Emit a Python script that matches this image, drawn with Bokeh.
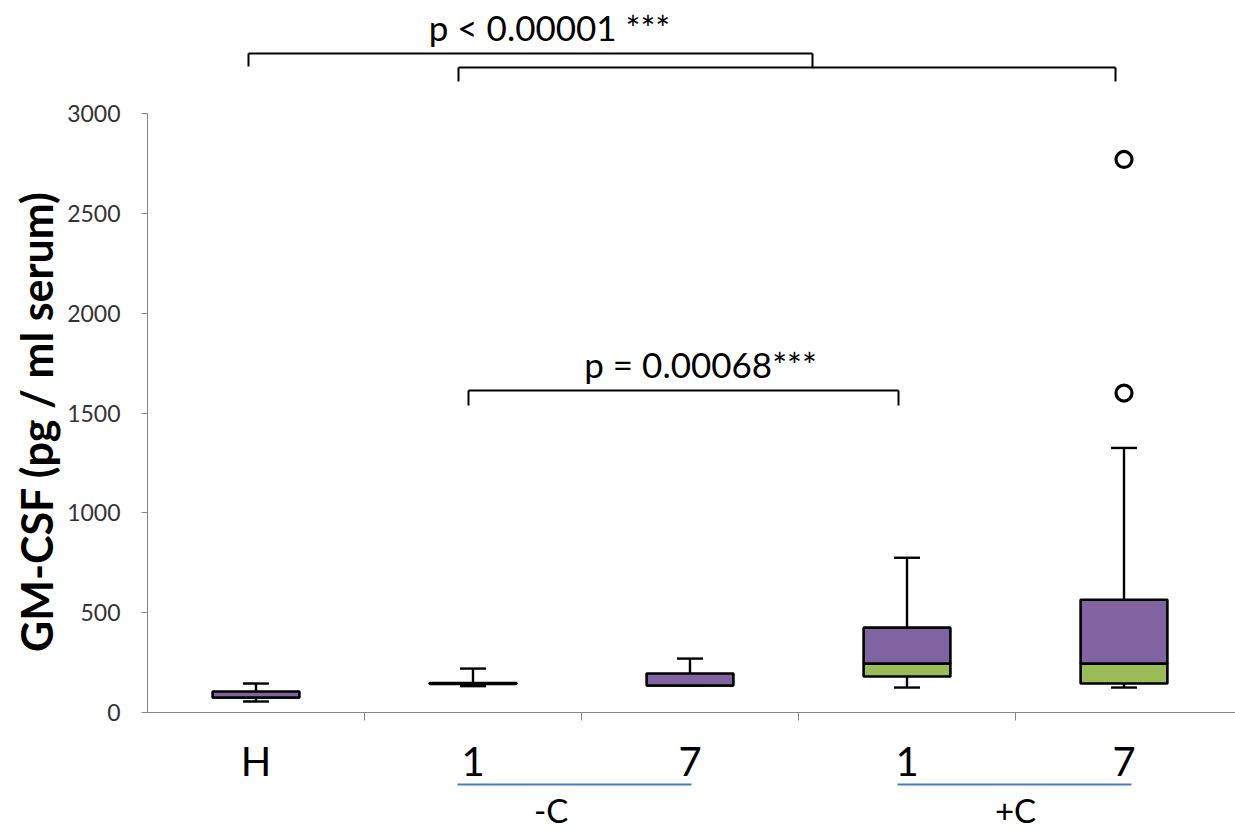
import math
from bokeh.plotting import figure
from bokeh.models import Range1d, LinearAxis, FixedTicker, ColumnDataSource
from bokeh.embed import file_html
from bokeh.resources import INLINE
from bokeh.core.properties import value

# ---------------- data ----------------
groups = ["H", "-C 1", "-C 7", "+C 1", "+C 7"]
tick_labels = ["H", "1", "7", "1", "7"]
group_names = ["-C", "+C"]
group_label_pos = [1.86, 4.0]
q_min = [55, 132, 135, 125, 125]
q1 = [75, 143, 135, 180, 145]
median = [75, 145, 135, 245, 245]
q3 = [105, 148, 195, 425, 565]
q_max = [145, 220, 270, 775, 1325]
outlier_group = [4, 4]
outlier_values = [1600, 2770]
y_ticks = [0, 500, 1000, 1500, 2000, 2500, 3000]
y_title = "GM-CSF (pg / ml serum)"
sig_texts = ["p < 0.00001 ***", "p = 0.00068***"]

# ---------------- layout helpers ----------------
FONT = "Lato"
PX_PER_CAT = 217
AXIS_PX = 147          # pixel column of the y axis
ZERO_PY = 712          # pixel row of y = 0
FRAME_W, FRAME_H = 1235, 834
Y_PER_PX = 3000 / 599

centers = [i + 0.5 for i in range(len(groups))]
box_w = 0.4
cap_w = 0.06


def px2x(px):
    return (px - AXIS_PX) / PX_PER_CAT


def py2y(py):
    return (ZERO_PY - py) * Y_PER_PX


x_end = px2x(FRAME_W)
p = figure(frame_width=FRAME_W, frame_height=FRAME_H,
           x_range=Range1d(px2x(0), x_end),
           y_range=Range1d(py2y(FRAME_H), py2y(0)),
           output_backend="svg", toolbar_location=None,
           x_axis_type=None, y_axis_type=None,
           min_border_left=0, min_border_right=0,
           min_border_top=0, min_border_bottom=0)
p.outline_line_color = None
p.background_fill_color = "white"
p.border_fill_color = "white"

# ---------------- axes ----------------
yax = LinearAxis(ticker=FixedTicker(ticks=y_ticks, minor_ticks=[]), bounds=(0, 3000),
                 fixed_location=0)
yax.axis_line_color = "#868686"
yax.major_tick_line_color = "#868686"
yax.major_tick_out = 6
yax.major_tick_in = 0
yax.minor_tick_line_color = None
yax.minor_tick_out = 0
yax.major_label_text_font = FONT
yax.major_label_text_font_size = "23px"
yax.major_label_text_color = "#333333"
yax.major_label_standoff = 21
p.add_layout(yax, "left")

xax = LinearAxis(ticker=FixedTicker(ticks=centers, minor_ticks=[1, 2, 3, 4]),
                 major_label_overrides={c: t for c, t in zip(centers, tick_labels)},
                 bounds=(0, x_end), fixed_location=0)
xax.axis_line_color = "#868686"
xax.major_tick_line_color = None
xax.major_tick_out = 0
xax.major_tick_in = 0
xax.minor_tick_line_color = "#868686"
xax.minor_tick_out = 8
xax.minor_tick_in = 0
xax.major_label_text_font = FONT
xax.major_label_text_font_size = "40px"
xax.major_label_text_color = "black"
xax.major_label_standoff = 16
p.add_layout(xax, "below")

gax = LinearAxis(ticker=FixedTicker(ticks=group_label_pos, minor_ticks=[]),
                 major_label_overrides={c: t for c, t in zip(group_label_pos, group_names)},
                 bounds=(px2x(457), px2x(1131)), fixed_location=py2y(784))
gax.axis_line_color = "#4a7ebb"
gax.axis_line_width = 2
gax.axis_line_dash = "234 206"
gax.major_tick_line_color = None
gax.major_tick_out = 0
gax.major_tick_in = 0
gax.minor_tick_line_color = None
gax.minor_tick_out = 0
gax.major_label_text_font = FONT
gax.major_label_text_font_size = "33px"
gax.major_label_text_color = "black"
gax.major_label_standoff = 5
p.add_layout(gax, "below")

# y-axis title, centred on the 0..3000 part of the axis
p.text(x=[px2x(36)], y=[py2y(421)], text=[y_title], angle=math.pi / 2,
       text_font=value(FONT), text_font_style="bold", text_font_size="43px",
       text_color="black", text_align="center", text_baseline="middle")

# ---------------- boxes ----------------
src = ColumnDataSource(dict(x=centers, qmin=q_min, q1=q1, med=median, q3=q3, qmax=q_max,
                            cl=[c - cap_w for c in centers], cr=[c + cap_w for c in centers]))

# whiskers
p.segment(x0="x", y0="q3", x1="x", y1="qmax", source=src, line_color="black", line_width=2.4)
p.segment(x0="x", y0="qmin", x1="x", y1="q1", source=src, line_color="black", line_width=2.4)
p.segment(x0="cl", y0="qmax", x1="cr", y1="qmax", source=src, line_color="black", line_width=2.4)
p.segment(x0="cl", y0="qmin", x1="cr", y1="qmin", source=src, line_color="black", line_width=2.4)

# boxes: lower part (q1..median) green, upper part (median..q3) purple
p.vbar(x="x", width=box_w, bottom="q1", top="med", source=src,
       fill_color="#9BBB59", line_color="black", line_width=2.6)
p.vbar(x="x", width=box_w, bottom="med", top="q3", source=src,
       fill_color="#8064A2", line_color="black", line_width=2.6)

# outliers
p.scatter(x=[centers[g] for g in outlier_group], y=outlier_values, size=16,
          marker="circle", fill_color=None, line_color="black", line_width=3.2)

# ---------------- significance brackets ----------------
br_x0 = [px2x(248), px2x(458), px2x(468)]
br_x1 = [px2x(812), px2x(1115), px2x(898)]
br_y = [py2y(53), py2y(67), py2y(390)]
br_l = [py2y(66), py2y(81), py2y(405)]
br_r = [py2y(67), py2y(81), py2y(405)]
bsrc = ColumnDataSource(dict(x0=br_x0, x1=br_x1, y=br_y, yl=br_l, yr=br_r))
p.segment(x0="x0", y0="y", x1="x1", y1="y", source=bsrc, line_color="black", line_width=2)
p.segment(x0="x0", y0="y", x1="x0", y1="yl", source=bsrc, line_color="black", line_width=2)
p.segment(x0="x1", y0="y", x1="x1", y1="yr", source=bsrc, line_color="black", line_width=2)

p.text(x=[px2x(549), px2x(700)], y=[py2y(26), py2y(363)], text=sig_texts,
       text_font=value(FONT), text_font_size="35px", text_color="black",
       text_align="center", text_baseline="alphabetic")

open("out.html", "w").write(file_html(p, INLINE))
